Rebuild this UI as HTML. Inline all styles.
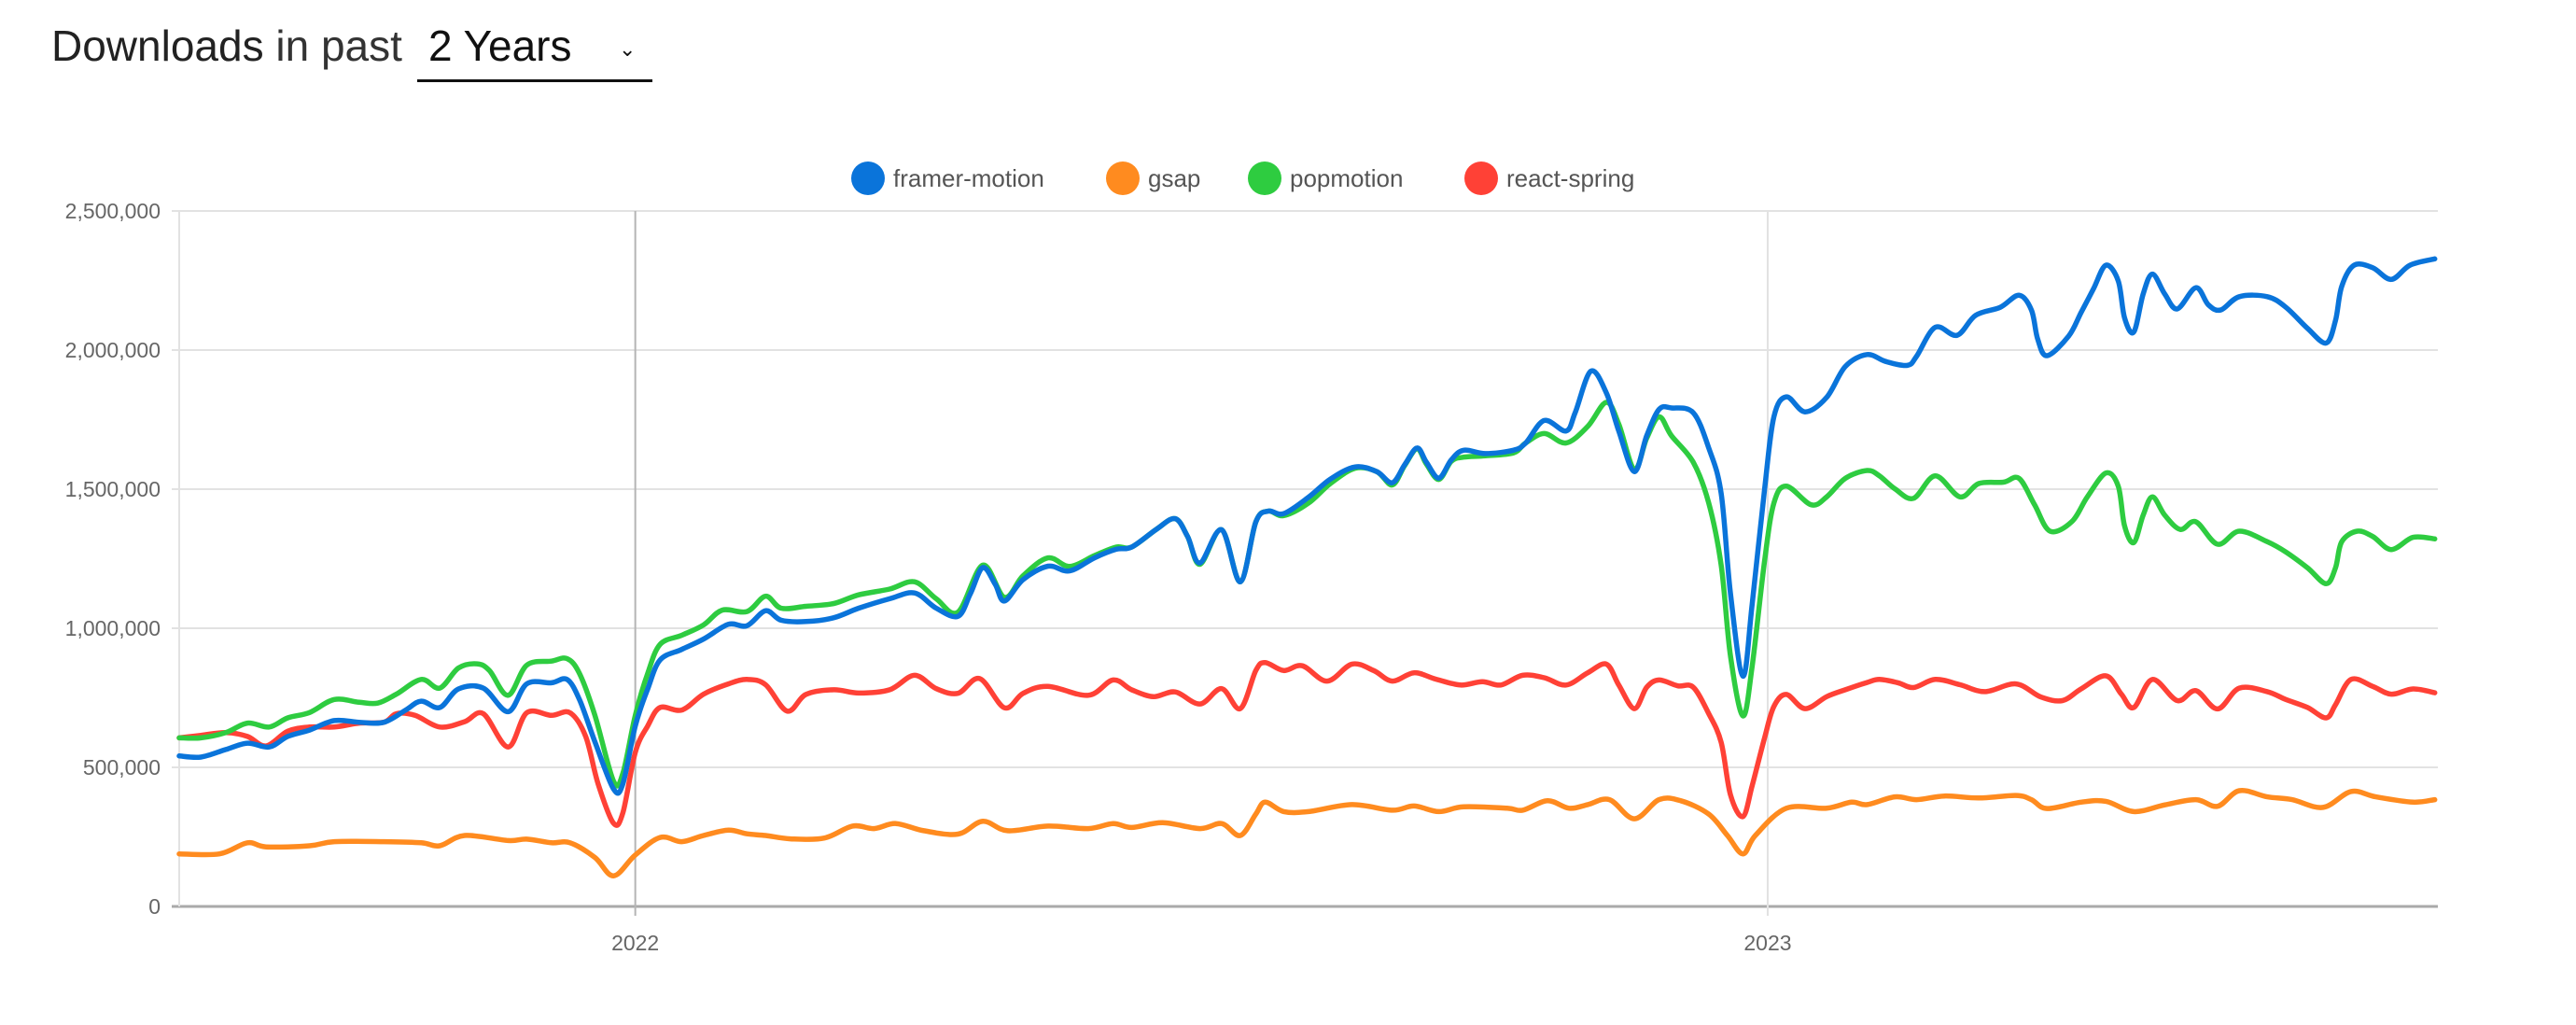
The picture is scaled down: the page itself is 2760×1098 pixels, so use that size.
<!DOCTYPE html>
<html><head><meta charset="utf-8">
<style>
html,body{margin:0;padding:0;background:#fff;width:2760px;height:1098px;overflow:hidden}
body{font-family:"Liberation Sans",Arial,sans-serif}
#hdr{position:absolute;left:55px;top:22px;font-size:46px;color:#222;white-space:nowrap}
#hdr b{font-weight:500}
#hdr .lt{font-weight:300;color:#333}
#sel{position:absolute;left:447px;top:22px;width:252px;height:63px;border-bottom:3px solid #111;font-size:46px;font-weight:300;color:#111}
#sel span.t{position:absolute;left:12px;top:0}
#sel span.c{position:absolute;left:216px;top:18px;font-size:22px}
</style></head><body>
<div id="hdr"><b>Downloads</b> <span class="lt">in past</span></div>
<div id="sel"><span class="t">2 Years</span><span class="c">&#8964;</span></div>
<svg id="chart" width="2760" height="1098" style="position:absolute;left:0;top:0"></svg>
<script>
const yTicks=[0,500000,1000000,1500000,2000000,2500000];
const yTickLabels=["0","500,000","1,000,000","1,500,000","2,000,000","2,500,000"];
const xTickDays=[147,512];
const xTickLabels=["2022","2023"];
const seriesNames=["framer-motion","gsap","popmotion","react-spring"];
const seriesColors=["#0a74da","#ff8b1f","#2ecc40","#ff4136"];
const fmDays=[0,7,15,22,29,35,42,50,58,66,73,78,84,90,98,106,112,120,125,129,134,140,143,147,151,155,162,169,177,183,189,194,202,211,219,229,237,244,251,255,259,263,266,272,280,287,295,302,307,315,321,325,329,336,342,347,351,356,364,371,379,386,391,395,399,402,406,410,414,421,430,434,440,447,450,455,460,464,469,473,477,481,488,493,497,500,504,507,511,514,518,524,531,537,544,550,557,560,566,573,579,587,593,597,599,602,609,613,617,621,625,627,630,633,636,640,644,650,654,658,664,673,679,686,692,695,697,701,707,713,719,727];
const fmValues=[541,537,564,587,573,611,634,668,662,662,706,738,715,782,785,700,800,804,816,744,592,422,441,649,782,886,924,961,1014,1009,1063,1029,1024,1038,1072,1106,1127,1072,1043,1124,1218,1158,1098,1175,1223,1206,1253,1284,1292,1356,1394,1330,1235,1354,1167,1382,1421,1412,1471,1536,1580,1563,1523,1588,1648,1597,1540,1605,1640,1628,1640,1666,1747,1709,1777,1924,1846,1709,1563,1692,1787,1792,1775,1648,1485,1124,828,1089,1502,1760,1832,1778,1830,1941,1984,1959,1945,1978,2082,2053,2125,2154,2197,2144,2040,1980,2050,2135,2220,2305,2248,2116,2065,2201,2273,2201,2148,2224,2163,2144,2192,2192,2154,2078,2025,2106,2229,2305,2296,2254,2305,2328];
const gsDays=[0,13,22,28,42,50,66,78,84,92,106,112,120,126,134,140,147,155,162,169,177,183,189,197,208,217,224,231,240,251,259,267,280,293,301,307,317,329,336,342,347,350,356,364,378,391,398,406,414,428,433,441,448,454,461,469,477,484,493,499,504,508,518,531,539,544,553,560,569,580,592,597,602,613,621,630,640,650,657,664,673,681,691,700,708,720,727];
const gsValues=[189,189,229,214,218,233,233,229,218,255,237,242,229,229,176,110,185,248,233,255,274,261,255,243,246,289,280,298,272,260,306,272,289,280,298,284,301,280,298,255,332,375,341,341,366,346,361,341,358,353,346,380,353,366,384,315,384,380,332,255,189,255,353,353,375,366,394,384,397,390,399,384,352,375,378,341,365,384,360,416,394,384,356,413,394,375,384];
const pmDays=[0,7,15,22,29,35,42,50,58,64,70,78,84,90,96,100,106,112,120,125,129,134,140,143,147,151,155,162,169,175,183,189,194,202,211,219,229,237,244,251,259,266,272,280,287,295,302,307,315,321,325,329,336,342,347,351,356,364,371,379,386,391,395,399,402,406,410,414,421,430,434,440,447,454,460,464,469,473,477,481,488,493,497,500,504,507,511,514,518,526,531,537,544,548,553,559,566,574,580,588,593,598,603,610,615,621,625,627,630,633,636,640,645,650,657,664,673,679,686,692,695,697,702,707,713,720,727];
const pmValues=[606,606,625,659,645,678,697,744,734,731,763,816,785,857,872,848,759,867,882,891,838,687,450,479,687,838,942,975,1012,1065,1060,1115,1072,1079,1089,1120,1141,1167,1106,1058,1227,1111,1189,1253,1222,1261,1292,1292,1356,1394,1330,1230,1354,1167,1382,1421,1405,1450,1520,1575,1563,1515,1585,1645,1590,1535,1600,1615,1620,1630,1666,1700,1666,1726,1812,1734,1571,1683,1760,1692,1597,1450,1227,900,685,865,1244,1450,1511,1444,1472,1539,1567,1548,1501,1467,1548,1472,1520,1525,1539,1444,1349,1383,1472,1558,1510,1368,1308,1406,1472,1406,1355,1383,1302,1349,1311,1274,1217,1160,1217,1311,1349,1330,1283,1327,1321];
const rsDays=[0,7,15,22,28,35,42,50,58,66,70,76,84,92,98,106,112,120,126,131,135,140,143,147,151,155,162,169,177,183,189,196,202,211,219,229,237,244,251,258,266,272,280,293,301,307,314,321,329,336,342,347,350,356,362,370,378,385,391,398,405,413,420,426,433,440,447,454,460,464,469,473,477,483,488,493,497,500,504,507,511,514,518,524,531,537,544,548,554,559,566,574,582,592,600,607,613,621,626,630,636,644,650,657,664,673,679,686,692,695,700,707,713,720,727];
const rsValues=[606,615,625,611,577,630,645,645,659,662,693,687,645,664,693,573,696,687,696,611,441,299,337,554,649,715,706,763,800,816,797,702,762,779,767,779,831,783,766,819,714,766,791,759,814,779,754,771,728,783,711,848,877,848,865,810,871,848,810,840,817,796,808,796,831,822,796,840,871,796,711,788,814,793,788,693,590,401,323,435,607,719,762,711,754,779,805,816,804,787,816,797,772,800,753,740,782,829,763,715,816,740,776,710,785,772,744,715,678,725,816,791,763,782,768];

const NS="http://www.w3.org/2000/svg";
const svg=document.getElementById('chart');
const L=192,R=2612,T=226,B=971,DAYS=728,YMAX=2500000;
const xs=d=>L+d/DAYS*(R-L);
const ys=v=>B-v/YMAX*(B-T);
function mk(tag,attrs,parent){const e=document.createElementNS(NS,tag);for(const k in attrs)e.setAttribute(k,attrs[k]);(parent||svg).appendChild(e);return e;}

// grid
yTicks.forEach((v,i)=>{
  const g=mk('line',{x1:L-8,x2:R,y1:ys(v),y2:ys(v),stroke:i===0?'#aaa':'#e2e2e2','stroke-width':i===0?3:2});
  
  
  const t=mk('text',{x:L-20,y:ys(v)+8,'text-anchor':'end','font-size':23,fill:'#666','font-family':'Liberation Sans, Arial, sans-serif'});
  t.textContent=yTickLabels[i];
  
  
});
const lb=mk('line',{x1:L,x2:L,y1:T,y2:B,stroke:'#e2e2e2','stroke-width':2});


xTickDays.forEach((d,i)=>{
  const g=mk('line',{x1:xs(d),x2:xs(d),y1:T,y2:B+10,stroke:i===0?'#b5b5b5':'#e2e2e2','stroke-width':2});
  
  
  const t=mk('text',{x:xs(d),y:B+47,'text-anchor':'middle','font-size':23,fill:'#666','font-family':'Liberation Sans, Arial, sans-serif'});
  t.textContent=xTickLabels[i];
  
  
});

function pathFor(days,vals){
  const p=days.map((d,i)=>[xs(d),ys(vals[i])]);
  let s='M'+p[0][0].toFixed(1)+','+p[0][1].toFixed(1);
  for(let i=0;i<p.length-1;i++){
    const p0=p[Math.max(0,i-1)],p1=p[i],p2=p[i+1],p3=p[Math.min(p.length-1,i+2)];
    const k=1/6;
    const c1=[p1[0]+(p2[0]-p0[0])*k,p1[1]+(p2[1]-p0[1])*k];
    const c2=[p2[0]-(p3[0]-p1[0])*k,p2[1]-(p3[1]-p1[1])*k];
    s+='C'+c1[0].toFixed(1)+','+c1[1].toFixed(1)+' '+c2[0].toFixed(1)+','+c2[1].toFixed(1)+' '+p2[0].toFixed(1)+','+p2[1].toFixed(1);
  }
  return s;
}
const sData=[[gsDays,gsValues,1],[rsDays,rsValues,3],[pmDays,pmValues,2],[fmDays,fmValues,0]];
sData.forEach(([d,v,ci])=>{
  const pth=mk('path',{d:pathFor(d,v.map(x=>x*1000)),fill:'none',stroke:seriesColors[ci],'stroke-width':5.5,'stroke-linejoin':'round','stroke-linecap':'round'});
  
  
});

// legend
const legX=[930,1203,1355,1587];
seriesNames.forEach((n,i)=>{
  const g=mk('g',{});
  
  
  mk('circle',{cx:legX[i],cy:191,r:18,fill:seriesColors[i]},g);
  const t=mk('text',{x:legX[i]+27,y:200,'font-size':26,fill:'#555','font-family':'Liberation Sans, Arial, sans-serif'},g);
  t.textContent=n;
});
</script>
</body></html>
